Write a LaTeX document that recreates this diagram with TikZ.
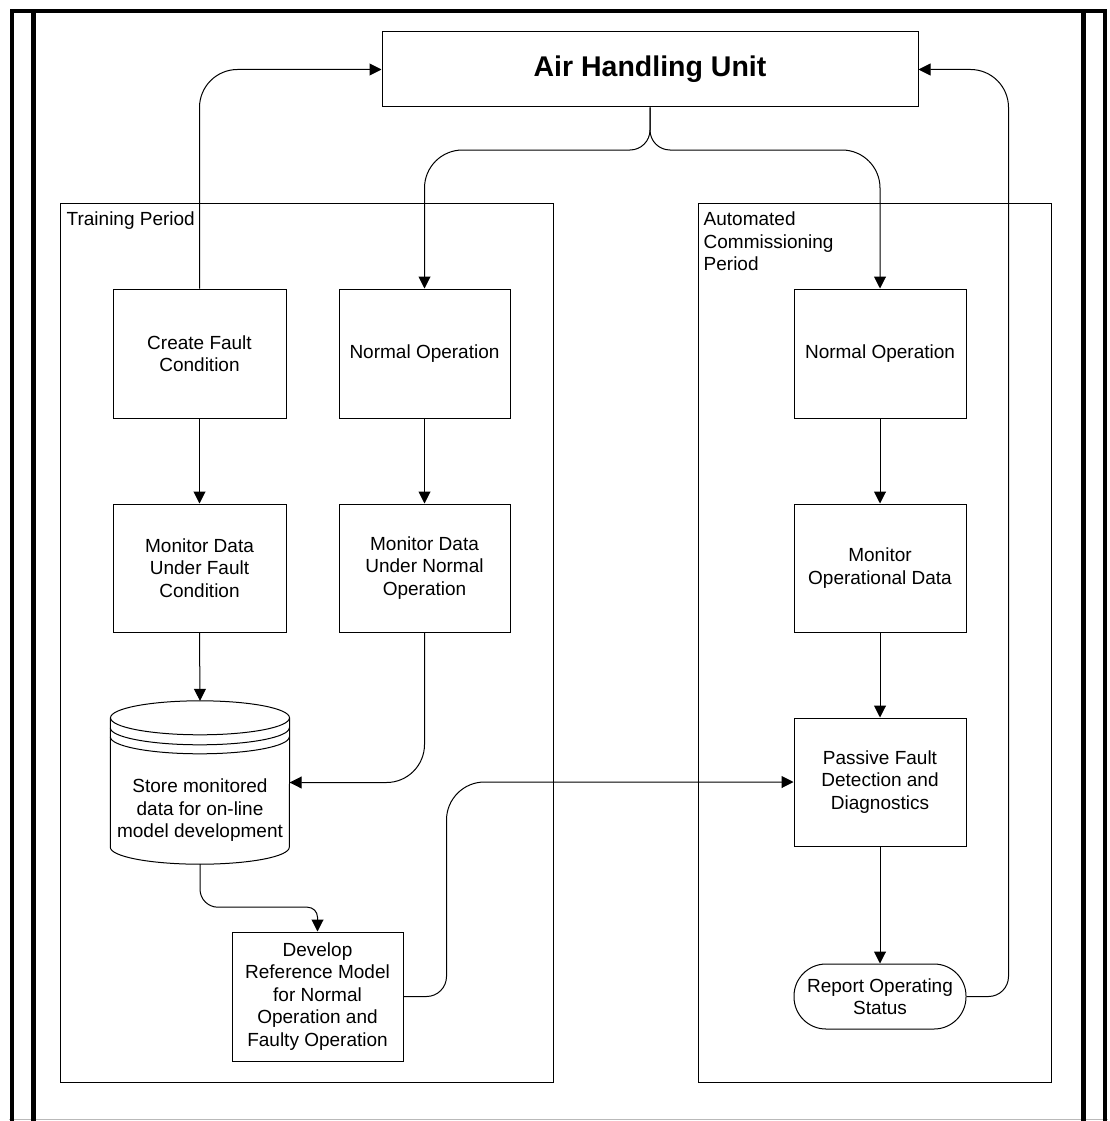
\documentclass[tikz,border=0pt]{standalone}
\usepackage{fontspec}
\setmainfont{Liberation Sans}
\usetikzlibrary{arrows.meta,calc}

\begin{document}
\begin{tikzpicture}[
  x=1pt, y=1pt,
  every node/.style={font=\fontsize{19pt}{22.5pt}\selectfont},
  proc/.style={draw, line width=1pt, rectangle, align=center, inner sep=0pt,
               minimum width=172pt, minimum height=129pt},
  term/.style={proc, minimum height=65pt, rounded corners=32pt},
  period/.style={draw, line width=1pt},
  plabel/.style={anchor=north west, inner sep=0pt, align=left},
  conn/.style={line width=1pt, -{Triangle[length=12pt,width=12pt]}},
  frame/.style={line width=4.5pt, line join=miter},
]
\useasboundingbox (0,0) rectangle (1110,-1121);

% outer page frame
\draw[gray!55, line width=1.5pt] (9,-1119.5) -- (1108,-1119.5);
\draw[frame] (12,-1121) -- (12,-11) -- (1105,-11) -- (1105,-1121);
\draw[frame] (33.5,-13) -- (33.5,-1121);
\draw[frame] (1083.5,-13) -- (1083.5,-1121);

% the two periods
\draw[period] (60,-203) rectangle (553,-1082);
\node[plabel] (tlabel) at (66.5,-212) {Training Period};
\draw[period] (698,-203) rectangle (1051.5,-1082);
\node[plabel] (alabel) at (703.5,-212) {Automated\\Commissioning\\Period};

% air handling unit
\node[draw, line width=1pt, minimum width=536pt, minimum height=75pt, inner sep=0pt,
      font=\fontsize{28.5pt}{33pt}\selectfont\bfseries] (ahu) at (650,-69.5) {Air Handling Unit};

% training period steps
\node[proc, minimum width=173pt] (cf) at (199.5,-353.5) {Create Fault\\Condition};
\node[proc, minimum width=171pt] (nl) at (424.5,-353.5) {Normal Operation};
\node[proc, minimum width=173pt, minimum height=128pt] (mf) at (199.5,-568) {Monitor Data\\Under Fault\\Condition};
\node[proc, minimum width=171pt, minimum height=128pt] (mn) at (424.5,-568) {Monitor Data\\Under Normal\\Operation};

% data store (cylinder)
\node[inner sep=0pt, minimum width=179pt, minimum height=163pt] (store) at (200,-782.5) {};
\draw[line width=1pt, fill=white]
  ([yshift=-17pt]store.north west) -- ([yshift=17pt]store.south west)
  arc[start angle=180, end angle=360, x radius=89.5pt, y radius=17pt]
  -- ([yshift=-17pt]store.north east);
\draw[line width=1pt] ([yshift=-17pt]store.north) ellipse[x radius=89.5pt, y radius=17pt];
\draw[line width=1pt] ([yshift=-27pt]store.north west)
  arc[start angle=180, end angle=360, x radius=89.5pt, y radius=17pt];
\draw[line width=1pt] ([yshift=-36pt]store.north west)
  arc[start angle=180, end angle=360, x radius=89.5pt, y radius=17pt];
\node[align=center, inner sep=0pt] (storetxt) at ([yshift=-28pt]store.center)
  {Store monitored\\data for on-line\\model development};

\node[proc, minimum width=171pt] (dev) at (317.5,-996.5)
  {Develop\\Reference Model\\for Normal\\Operation and\\Faulty Operation};

% automated commissioning steps
\node[proc] (nr) at (880,-353.5) {Normal Operation};
\node[proc, minimum height=128pt] (mo) at (880,-568) {Monitor\\Operational Data};
\node[proc, minimum height=128pt] (pf) at (880,-782) {Passive Fault\\Detection and\\Diagnostics};
\node[term] (rep) at (880,-996.5) {Report Operating\\Status};

% connectors
\coordinate (fork) at (650,-150);
\draw[conn, rounded corners=38pt] (cf.north) |- (ahu.west);
\draw[conn] (ahu.south) [rounded corners=20pt] -- (fork) [rounded corners=38pt] -| (nl.north);
\draw[conn] (ahu.south) [rounded corners=20pt] -- (fork) [rounded corners=38pt] -| (nr.north);

\draw[conn] (cf) -- (mf);
\draw[conn] (nl) -- (mn);
\draw[conn] (mf.south) -- (store.north);
\draw[conn, rounded corners=38pt] (mn.south) |- (store.east);
\draw[conn] (store.south) [rounded corners=18pt] -- ($(store.south)+(0,-43)$)
  [rounded corners=10pt] -| (dev.north);
\draw[conn] (dev.east) [rounded corners=20pt] -- ($(dev.east)+(43,0)$)
  [rounded corners=38pt] |- (pf.west);

\draw[conn] (nr) -- (mo);
\draw[conn] (mo) -- (pf);
\draw[conn] (pf) -- (rep);
\draw[conn] (rep.east) [rounded corners=20pt] -- ($(rep.east)+(42,0)$)
  [rounded corners=38pt] |- (ahu.east);
\end{tikzpicture}
\end{document}
